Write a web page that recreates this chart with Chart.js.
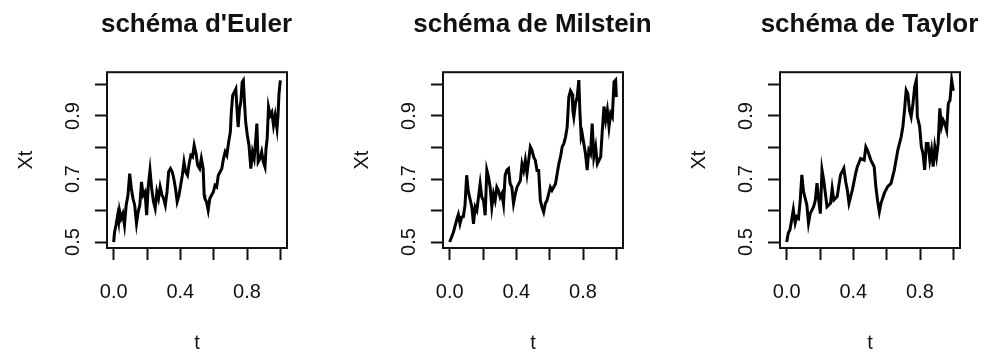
<!DOCTYPE html>
<html>
<head>
<meta charset="utf-8">
<script src="https://cdn.jsdelivr.net/npm/chart.js@4.4.0/dist/chart.umd.min.js"></script>
<style>
  html, body { margin: 0; background: #fff; overflow: hidden; }
  #wrap { position: relative; width: 987px; height: 354px; overflow: hidden; }
  .panel { position: absolute; top: 0; width: 393px; height: 354px; }
</style>
</head>
<body>
<div id="wrap">
  <div class="panel" style="left:0px"><canvas id="c0" width="393" height="354"></canvas></div>
  <div class="panel" style="left:336px"><canvas id="c1" width="393" height="354"></canvas></div>
  <div class="panel" style="left:673px"><canvas id="c2" width="393" height="354"></canvas></div>
</div>
<script>
// one simulated path of X_t, discretised with three schemes
const titles = ["schéma d'Euler", 'schéma de Milstein', 'schéma de Taylor']

const tEuler = [
  0.000, 0.005, 0.014, 0.024, 0.030, 0.035, 0.045, 0.055, 0.065, 0.075,
  0.086, 0.096, 0.106, 0.116, 0.126, 0.137, 0.147, 0.157, 0.167, 0.177,
  0.188, 0.198, 0.208, 0.218, 0.228, 0.239, 0.249, 0.259, 0.269, 0.279,
  0.290, 0.300, 0.310, 0.320, 0.330, 0.341, 0.351, 0.361, 0.371, 0.381,
  0.392, 0.402, 0.412, 0.422, 0.432, 0.443, 0.453, 0.463, 0.473, 0.483,
  0.494, 0.504, 0.516, 0.526, 0.537, 0.543, 0.547, 0.557, 0.567, 0.577,
  0.588, 0.598, 0.608, 0.618, 0.628, 0.639, 0.649, 0.659, 0.669, 0.679,
  0.690, 0.700, 0.706, 0.714, 0.724, 0.733, 0.741, 0.747, 0.755, 0.763,
  0.771, 0.778, 0.786, 0.792, 0.802, 0.812, 0.823, 0.833, 0.843, 0.853,
  0.859, 0.867, 0.878, 0.888, 0.898, 0.908, 0.914, 0.921, 0.929, 0.939,
  0.949, 0.959, 0.969, 0.980, 0.986, 0.992, 1.000
]
const euler = [
  0.500, 0.530, 0.554, 0.585, 0.565, 0.600, 0.575, 0.590, 0.554, 0.617,
  0.649, 0.717, 0.670, 0.638, 0.617, 0.559, 0.596, 0.617, 0.691, 0.649,
  0.659, 0.585, 0.680, 0.728, 0.670, 0.628, 0.607, 0.659, 0.638, 0.675,
  0.649, 0.638, 0.617, 0.659, 0.723, 0.733, 0.723, 0.701, 0.670, 0.628,
  0.649, 0.680, 0.712, 0.754, 0.723, 0.712, 0.749, 0.775, 0.770, 0.807,
  0.781, 0.744, 0.733, 0.765, 0.733, 0.649, 0.638, 0.628, 0.601, 0.638,
  0.649, 0.659, 0.680, 0.675, 0.712, 0.723, 0.733, 0.765, 0.786, 0.775,
  0.818, 0.849, 0.912, 0.965, 0.976, 0.986, 0.912, 0.865, 0.923, 0.944,
  1.007, 1.013, 0.934, 0.881, 0.839, 0.807, 0.733, 0.786, 0.765, 0.828,
  0.876, 0.754, 0.765, 0.786, 0.754, 0.738, 0.796, 0.828, 0.928, 0.902,
  0.912, 0.870, 0.902, 0.860, 0.902, 0.970, 1.013
]

const tMilstein = [
  0.000, 0.022, 0.042, 0.052, 0.062, 0.072, 0.082, 0.092, 0.102, 0.112,
  0.133, 0.143, 0.153, 0.163, 0.183, 0.193, 0.203, 0.213, 0.223, 0.233,
  0.243, 0.253, 0.263, 0.273, 0.283, 0.293, 0.303, 0.313, 0.323, 0.333,
  0.343, 0.353, 0.363, 0.373, 0.383, 0.394, 0.404, 0.424, 0.434, 0.444,
  0.454, 0.464, 0.474, 0.484, 0.494, 0.504, 0.514, 0.524, 0.534, 0.544,
  0.554, 0.564, 0.574, 0.584, 0.594, 0.604, 0.614, 0.624, 0.635, 0.645,
  0.655, 0.665, 0.675, 0.685, 0.695, 0.705, 0.715, 0.725, 0.735, 0.739,
  0.745, 0.755, 0.765, 0.775, 0.781, 0.789, 0.795, 0.805, 0.815, 0.825,
  0.835, 0.845, 0.855, 0.865, 0.876, 0.886, 0.896, 0.906, 0.916, 0.926,
  0.936, 0.946, 0.956, 0.966, 0.976, 0.986, 0.996, 1.000
]
const milstein = [
  0.500, 0.530, 0.570, 0.587, 0.558, 0.579, 0.580, 0.617, 0.712, 0.660,
  0.611, 0.558, 0.611, 0.600, 0.685, 0.642, 0.632, 0.585, 0.728, 0.706,
  0.674, 0.611, 0.653, 0.632, 0.674, 0.663, 0.642, 0.653, 0.620, 0.712,
  0.728, 0.733, 0.685, 0.674, 0.622, 0.653, 0.674, 0.695, 0.748, 0.727,
  0.759, 0.717, 0.759, 0.802, 0.791, 0.770, 0.759, 0.727, 0.727, 0.632,
  0.611, 0.595, 0.622, 0.632, 0.653, 0.674, 0.664, 0.674, 0.685, 0.717,
  0.748, 0.770, 0.802, 0.812, 0.833, 0.865, 0.960, 0.980, 0.970, 0.918,
  0.897, 0.940, 0.960, 1.014, 0.918, 0.833, 0.844, 0.812, 0.780, 0.728,
  0.791, 0.780, 0.876, 0.770, 0.802, 0.748, 0.759, 0.770, 0.855, 0.930,
  0.887, 0.918, 0.865, 0.908, 0.897, 1.008, 1.014, 0.960
]

const tTaylor = [
  0.000, 0.010, 0.020, 0.030, 0.040, 0.051, 0.061, 0.071, 0.081, 0.091,
  0.101, 0.121, 0.131, 0.141, 0.162, 0.172, 0.182, 0.192, 0.202, 0.212,
  0.222, 0.232, 0.242, 0.263, 0.273, 0.283, 0.303, 0.323, 0.343, 0.354,
  0.364, 0.374, 0.394, 0.414, 0.424, 0.444, 0.465, 0.475, 0.485, 0.505,
  0.525, 0.535, 0.545, 0.556, 0.566, 0.586, 0.606, 0.626, 0.646, 0.667,
  0.687, 0.697, 0.707, 0.717, 0.727, 0.737, 0.747, 0.758, 0.768, 0.778,
  0.784, 0.798, 0.808, 0.818, 0.828, 0.838, 0.848, 0.859, 0.869, 0.879,
  0.889, 0.899, 0.909, 0.919, 0.929, 0.939, 0.949, 0.960, 0.970, 0.980,
  0.990, 1.000
]
const taylor = [
  0.500, 0.529, 0.539, 0.570, 0.603, 0.560, 0.580, 0.575, 0.630, 0.713,
  0.660, 0.618, 0.560, 0.590, 0.612, 0.633, 0.687, 0.633, 0.590, 0.729,
  0.697, 0.655, 0.612, 0.623, 0.670, 0.633, 0.644, 0.713, 0.734, 0.692,
  0.665, 0.623, 0.665, 0.718, 0.739, 0.765, 0.760, 0.802, 0.791, 0.760,
  0.739, 0.676, 0.633, 0.596, 0.623, 0.655, 0.676, 0.686, 0.729, 0.792,
  0.834, 0.865, 0.918, 0.982, 0.971, 0.918, 0.897, 0.940, 0.993, 1.014,
  0.898, 0.866, 0.802, 0.781, 0.729, 0.813, 0.813, 0.760, 0.792, 0.739,
  0.802, 0.770, 0.813, 0.924, 0.866, 0.887, 0.876, 0.855, 0.940, 0.950,
  1.014, 0.980
]

const xTicks = [0, 0.2, 0.4, 0.6, 0.8, 1.0]
const xTickLabels = ['0.0', '', '0.4', '', '0.8', '']
const yTicks = [0.5, 0.6, 0.7, 0.8, 0.9, 1.0]
const yTickLabels = ['0.5', '', '0.7', '', '0.9', '']

const INK = '#111'
Chart.defaults.font.family = '"Liberation Sans", Arial, sans-serif'
Chart.defaults.color = INK

// closed frame around the plotting region
const frame = {
  id: 'frame',
  afterDatasetsDraw (chart) {
    const { ctx, chartArea: a } = chart
    ctx.save()
    ctx.strokeStyle = INK
    ctx.lineWidth = 2
    ctx.strokeRect(a.left, a.top, a.right - a.left, a.bottom - a.top)
    ctx.restore()
  }
}

function makePanel (id, title, times, values) {
  const pts = times.map((t, i) => ({ x: t, y: values[i] }))
  return new Chart(document.getElementById(id), {
    type: 'line',
    data: { datasets: [{ data: pts, borderColor: '#000', borderWidth: 3, pointRadius: 0, tension: 0, fill: false }] },
    options: {
      responsive: false,
      animation: false,
      layout: { padding: 0 },
      plugins: {
        legend: { display: false },
        tooltip: { enabled: false },
        title: {
          display: true, text: title, color: INK,
          font: { size: 26, weight: 'bold', lineHeight: 1.2 },
          padding: { top: 9, bottom: 32 }
        }
      },
      scales: {
        x: {
          type: 'linear', min: -0.04, max: 1.04,
          afterBuildTicks: s => { s.ticks = xTicks.map(v => ({ value: v })) },
          afterFit: s => { s.height = 106 },
          ticks: {
            autoSkip: false, maxRotation: 0, padding: 20, color: INK,
            font: { size: 20 },
            callback: (v, i) => xTickLabels[i]
          },
          grid: { drawOnChartArea: false, drawTicks: true, tickLength: 12, tickWidth: 2, tickColor: INK },
          border: { display: false },
          title: { display: true, text: 't', color: INK, font: { size: 20, lineHeight: 1 }, padding: { top: 0, bottom: 1 } }
        },
        y: {
          type: 'linear', min: 0.481, max: 1.039,
          afterBuildTicks: s => { s.ticks = yTicks.map(v => ({ value: v })) },
          afterFit: s => { s.width = 107 },
          ticks: {
            autoSkip: false, minRotation: 90, maxRotation: 90, crossAlign: 'center', padding: 8, color: INK,
            font: { size: 20 },
            callback: (v, i) => yTickLabels[i]
          },
          grid: { drawOnChartArea: false, drawTicks: true, tickLength: 12, tickWidth: 2, tickColor: INK },
          border: { display: false },
          title: { display: true, text: 'Xt', color: INK, font: { size: 20, lineHeight: 1 }, padding: { top: 16, bottom: 0 } }
        },
        // empty right margin, same width as the left one so the title sits over the plot
        margin: {
          type: 'linear', position: 'right', min: 0, max: 1,
          afterFit: s => { s.width = 106 },
          ticks: { display: false },
          grid: { display: false },
          border: { display: false }
        }
      }
    },
    plugins: [frame]
  })
}

makePanel('c0', titles[0], tEuler, euler)
makePanel('c1', titles[1], tMilstein, milstein)
makePanel('c2', titles[2], tTaylor, taylor)
</script>
</body>
</html>
